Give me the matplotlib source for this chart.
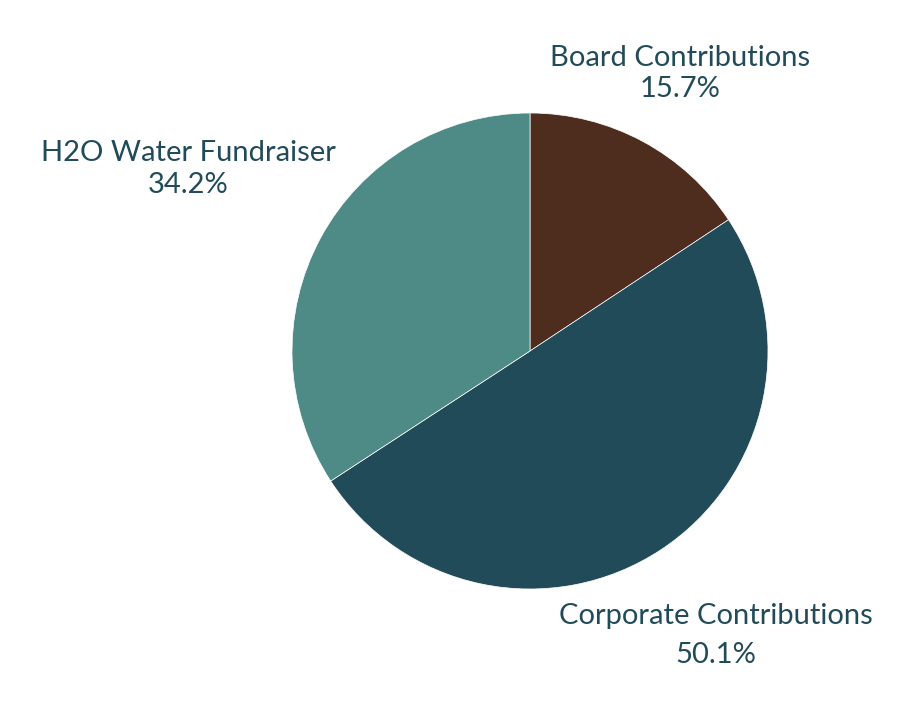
import matplotlib.pyplot as plt

# Data
labels = ['Board Contributions', 'Corporate Contributions', 'H2O Water Fundraiser']
shares = [15.7, 50.1, 34.2]
colors = ['#4e2c1e', '#224b5a', '#4e8a86']

# label centers in pie-radius units, and line spacing per label
label_pos = [(0.63, 1.165), (0.78, -1.195), (-1.437, 0.765)]
spacing = [1.25, 1.6, 1.25]

W, H = 924, 709
fig = plt.figure(figsize=(W / 100, H / 100), dpi=100)
cx, cy, r = 530, 351, 238
ax = fig.add_axes([(cx - r) / W, 1 - (cy + r) / H, 2 * r / W, 2 * r / H])

ax.pie(shares, colors=colors, startangle=90, counterclock=False,
       wedgeprops=dict(edgecolor='white', linewidth=0.5))
ax.set_xlim(-1, 1)
ax.set_ylim(-1, 1)
ax.set_aspect('equal')

for lab, val, (x, y), ls in zip(labels, shares, label_pos, spacing):
    ax.text(x, y, f'{lab}\n{val}%', ha='center', va='center',
            fontsize=21, color='#224b5a', family='Lato',
            linespacing=ls, clip_on=False)

fig.savefig('out.png', dpi=100)
